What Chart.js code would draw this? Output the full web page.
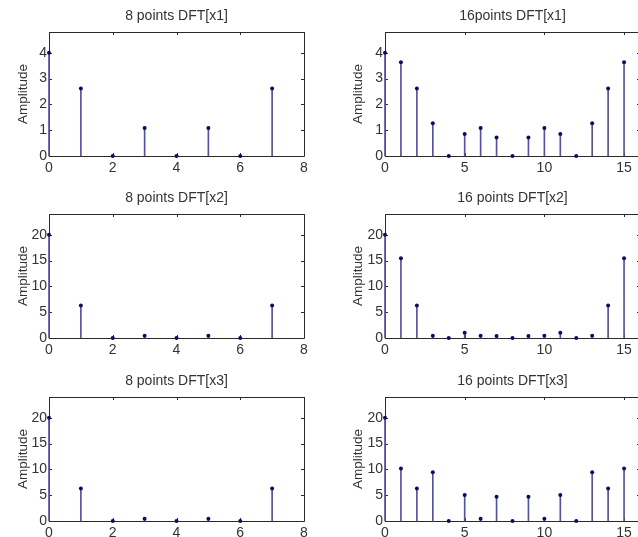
<!DOCTYPE html>
<html>
<head>
<meta charset="utf-8">
<script src="https://cdn.jsdelivr.net/npm/chart.js@4/dist/chart.umd.min.js"></script>
<style>
  html, body { margin: 0; padding: 0; background: #fff; overflow: hidden; }
  #wrap { position: relative; width: 638px; height: 537px; overflow: hidden; }
  canvas { position: absolute; }
</style>
</head>
<body>
<div id="wrap"></div>
<script>
// sample indices
const k8 = [0, 1, 2, 3, 4, 5, 6, 7];
const k16 = [0, 1, 2, 3, 4, 5, 6, 7, 8, 9, 10, 11, 12, 13, 14, 15];

// |DFT| values
const dft8x1 = [4, 2.61, 0, 1.08, 0, 1.08, 0, 2.61];
const dft16x1 = [4, 3.63, 2.61, 1.27, 0, 0.85, 1.08, 0.72, 0, 0.72, 1.08, 0.85, 0, 1.27, 2.61, 3.63];
const dft8x2 = [20, 6.31, 0, 0.45, 0, 0.45, 0, 6.31];
const dft16x2 = [20, 15.45, 6.31, 0.45, 0, 1.0, 0.45, 0.41, 0, 0.41, 0.45, 1.0, 0, 0.45, 6.31, 15.45];
const dft8x3 = [20, 6.31, 0, 0.45, 0, 0.45, 0, 6.31];
const dft16x3 = [20, 10.18, 6.31, 9.45, 0, 5.01, 0.45, 4.69, 0, 4.69, 0.45, 5.01, 0, 9.45, 6.31, 10.18];

// tick labels
const xTicks8 = [0, 2, 4, 6, 8];
const xTicks16 = [0, 5, 10, 15];
const yTicksA = [0, 1, 2, 3, 4];
const yTicksB = [0, 5, 10, 15, 20];

const titles = [
  "8 points DFT[x1]", "16points DFT[x1]",
  "8 points DFT[x2]", "16 points DFT[x2]",
  "8 points DFT[x3]", "16 points DFT[x3]"
];

const FONT = "'Liberation Sans', Arial, sans-serif";
const TXT = "#333";
const rowTops = [0, 182, 365];

// axes box + inward ticks, matlab style
const boxPlugin = {
  id: "box",
  beforeDatasetsDraw(chart) {
    const { ctx, chartArea: a, scales } = chart;
    ctx.save();
    ctx.strokeStyle = "#2a2a2a";
    ctx.lineWidth = 1;
    ctx.beginPath();
    ctx.rect(Math.round(a.left) + 0.5, Math.round(a.top) + 0.5,
      Math.round(a.right - a.left), Math.round(a.bottom - a.top));
    ctx.stroke();
    ctx.beginPath();
    scales.x.ticks.forEach(t => {
      const px = Math.round(scales.x.getPixelForValue(t.value)) + 0.5;
      ctx.moveTo(px, a.bottom); ctx.lineTo(px, a.bottom - 3);
      ctx.moveTo(px, a.top); ctx.lineTo(px, a.top + 3);
    });
    scales.y.ticks.forEach(t => {
      const py = Math.round(scales.y.getPixelForValue(t.value)) + 0.5;
      ctx.moveTo(a.left, py); ctx.lineTo(a.left + 3, py);
      ctx.moveTo(a.right, py); ctx.lineTo(a.right - 3, py);
    });
    ctx.stroke();
    ctx.restore();
  }
};

function makePlot(idx, xs, ys, xTicks, xMax, yTicks, yMax) {
  const col = idx % 2, row = Math.floor(idx / 2);
  const c = document.createElement("canvas");
  const w = col === 0 ? 320 : 325;
  c.width = w; c.height = 176;
  c.style.left = (col === 0 ? 0 : 319) + "px";
  c.style.top = rowTops[row] + "px";
  c.style.width = w + "px"; c.style.height = "176px";
  document.getElementById("wrap").appendChild(c);

  const pts = xs.map((x, i) => ({ x: x, y: ys[i] }));

  new Chart(c, {
    type: "bar",
    data: {
      datasets: [
        {
          type: "line",
          data: pts,
          showLine: false,
          pointStyle: "circle",
          pointRadius: 2,
          pointBackgroundColor: "#0c0c66",
          pointBorderColor: "#0c0c66",
          pointBorderWidth: 0,
          clip: false
        },
        {
          type: "bar",
          data: pts,
          backgroundColor: "#5252a2",
          borderWidth: 0,
          barThickness: 1,
          clip: false
        }
      ]
    },
    plugins: [boxPlugin],
    options: {
      responsive: false,
      animation: false,
      devicePixelRatio: 1,
      layout: { padding: { left: 0, right: col === 0 ? 16 : 1, top: 0, bottom: 0 } },
      plugins: {
        legend: { display: false },
        tooltip: { enabled: false },
        title: {
          display: true,
          text: titles[idx],
          color: TXT,
          fullSize: false,
          font: { family: FONT, size: 14, weight: "normal" },
          padding: { top: 8, bottom: 7.2 }
        }
      },
      scales: {
        x: {
          type: "linear",
          min: 0,
          max: xMax,
          offset: false,
          grid: { display: false, drawTicks: false },
          border: { display: false },
          ticks: { includeBounds: false, padding: 4, color: TXT, font: { family: FONT, size: 14 }, maxRotation: 0 },
          afterBuildTicks: s => { s.ticks = xTicks.map(v => ({ value: v })); },
          afterFit: s => { s.height = 20; }
        },
        y: {
          type: "linear",
          min: 0,
          max: yMax,
          grid: { display: false, drawTicks: false },
          border: { display: false },
          ticks: { includeBounds: false, padding: 2, color: TXT, font: { family: FONT, size: 14 } },
          afterBuildTicks: s => { s.ticks = yTicks.map(v => ({ value: v })); },
          afterFit: s => { s.width = col === 0 ? 49 : 66; },
          title: {
            display: true,
            text: "Amplitude",
            color: TXT,
            font: { family: FONT, size: 13.5 },
            padding: { top: col === 0 ? 15 : 31, bottom: 0 }
          }
        }
      }
    }
  });
}

makePlot(0, k8, dft8x1, xTicks8, 8, yTicksA, 4.8);
makePlot(1, k16, dft16x1, xTicks16, 16, yTicksA, 4.8);
makePlot(2, k8, dft8x2, xTicks8, 8, yTicksB, 24);
makePlot(3, k16, dft16x2, xTicks16, 16, yTicksB, 24);
makePlot(4, k8, dft8x3, xTicks8, 8, yTicksB, 24);
makePlot(5, k16, dft16x3, xTicks16, 16, yTicksB, 24);
</script>
</body>
</html>
